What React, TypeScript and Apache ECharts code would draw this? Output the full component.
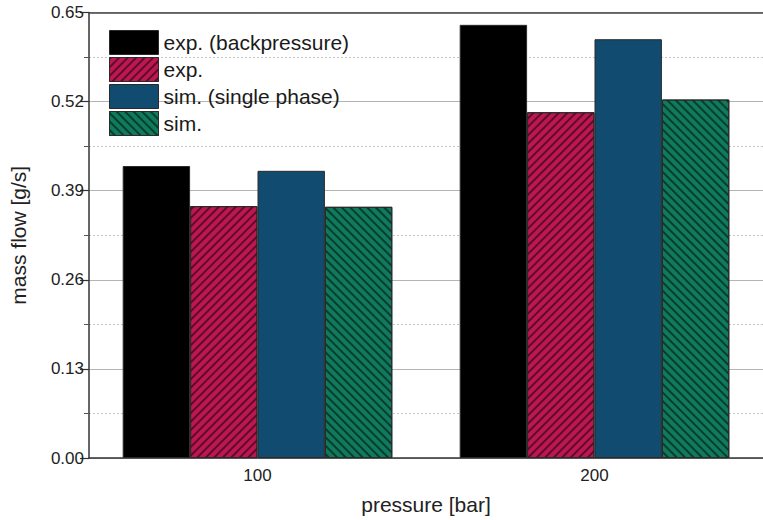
import React, { useEffect, useRef } from "react";
import * as echarts from "echarts";

const categories = ["100", "200"];
const seriesNames = ["exp. (backpressure)", "exp.", "sim. (single phase)", "sim."];
const expBackpressure = [0.426, 0.632];
const expValues = [0.3675, 0.5045];
const simSinglePhase = [0.419, 0.611];
const simValues = [0.3665, 0.523];
const yTicks = [0, 0.13, 0.26, 0.39, 0.52, 0.65];

const FONT = "'Liberation Sans', Arial, Helvetica, sans-serif";

export default function App() {
  const ref = useRef<HTMLDivElement>(null);
  useEffect(() => {
    if (!ref.current) return;
    const chart = echarts.init(ref.current, undefined, { renderer: "svg" });
    const border = { borderColor: "#2a2a2a", borderWidth: 1 };
    const hatch = (rot: number) => ({
      symbol: "rect",
      symbolSize: 1,
      dashArrayX: [1, 0],
      dashArrayY: [1.5, 3.2],
      rotation: rot,
      color: "rgba(0,0,0,0.5)",
    });
    chart.setOption({
      animation: false,
      textStyle: { fontFamily: FONT },
      grid: { left: 86, top: 12.5, width: 684, height: 447.5, containLabel: false },
      legend: {
        orient: "vertical",
        left: 109,
        top: 30,
        padding: 0,
        icon: "rect",
        itemWidth: 49,
        itemHeight: 24,
        itemGap: 2,
        data: seriesNames,
        textStyle: { fontSize: 21, color: "#1a1a1a", fontFamily: FONT },
        itemStyle: { borderColor: "#2a2a2a", borderWidth: 1 },
      },
      xAxis: [
        {
          type: "category",
          data: categories,
          position: "bottom",
          axisLine: { show: true, lineStyle: { color: "#333", width: 1.5 } },
          axisTick: { show: false },
          axisLabel: { fontSize: 17, color: "#222", margin: 9, fontFamily: FONT },
          name: "pressure [bar]",
          nameLocation: "middle",
          nameGap: 36,
          nameTextStyle: { fontSize: 21, color: "#222", fontFamily: FONT },
        },
        {
          type: "category",
          data: categories,
          position: "top",
          axisLine: { show: true, lineStyle: { color: "#444", width: 1.5 } },
          axisTick: { show: false },
          axisLabel: { show: false },
        },
      ],
      yAxis: {
        type: "value",
        min: yTicks[0],
        max: yTicks[yTicks.length - 1],
        interval: 0.13,
        axisLine: { show: true, lineStyle: { color: "#333", width: 1.5 } },
        axisTick: { show: true, length: 9, lineStyle: { color: "#333", width: 1.2 } },
        minorTick: { show: true, splitNumber: 2, length: 5, lineStyle: { color: "#555" } },
        axisLabel: {
          fontSize: 17,
          color: "#222",
          margin: 5,
          fontFamily: FONT,
          formatter: (v: number) => v.toFixed(2),
        },
        splitLine: { show: true, lineStyle: { color: "#b4b4b4", width: 1.2 } },
        minorSplitLine: { show: true, lineStyle: { color: "#c4c4c4", type: [2, 2], width: 1 } },
        name: "mass flow [g/s]",
        nameLocation: "middle",
        nameGap: 60,
        nameTextStyle: { fontSize: 21, color: "#222", fontFamily: FONT },
      },
      series: [
        {
          name: seriesNames[0],
          type: "bar",
          data: expBackpressure,
          barGap: "0%",
          barCategoryGap: "20%",
          itemStyle: { color: "#000000", ...border },
        },
        {
          name: seriesNames[1],
          type: "bar",
          data: expValues,
          barGap: "0%",
          barCategoryGap: "20%",
          itemStyle: { color: "#bd1752", ...border, decal: hatch(-Math.PI / 4) },
        },
        {
          name: seriesNames[2],
          type: "bar",
          data: simSinglePhase,
          barGap: "0%",
          barCategoryGap: "20%",
          itemStyle: { color: "#114c70", ...border },
        },
        {
          name: seriesNames[3],
          type: "bar",
          data: simValues,
          barGap: "0%",
          barCategoryGap: "20%",
          itemStyle: { color: "#0f7a5c", ...border, decal: hatch(Math.PI / 4) },
        },
      ],
    });
    return () => chart.dispose();
  }, []);
  return (
    <div
      ref={ref}
      style={{ position: "fixed", left: 0, top: 0, width: 763, height: 520, background: "#fff" }}
    />
  );
}
